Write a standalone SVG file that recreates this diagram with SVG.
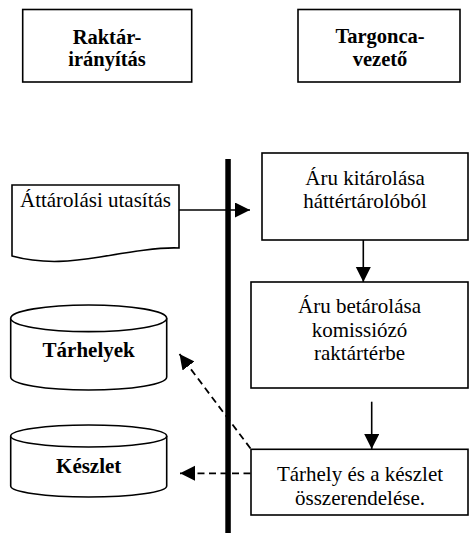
<svg xmlns="http://www.w3.org/2000/svg" width="469" height="533" viewBox="0 0 469 533">
<style>
.box{fill:#fff;stroke:#000;stroke-width:1.6}
.t{font-family:"Liberation Serif","Times New Roman",serif;font-size:21px;fill:#000;text-anchor:middle}
.b{font-weight:bold}
.h{font-size:20.5px}
.ln{stroke:#000;stroke-width:1.6;fill:none}
.dash{stroke:#000;stroke-width:1.8;fill:none;stroke-dasharray:7 4.5}
</style>
<defs>
<marker id="ah" markerUnits="userSpaceOnUse" markerWidth="16" markerHeight="16" refX="15" refY="7.5" orient="auto">
<path d="M0,0 L15,7.5 L0,15 Z" fill="#000"/>
</marker>
</defs>
<rect width="469" height="533" fill="#fff"/>
<g id="lane-raktar">
<rect class="box" x="22.7" y="9.5" width="169" height="72.5"/>
<text class="t b h" x="107" y="43.5">Raktár-</text>
<text class="t b h" x="107" y="66">irányítás</text>
</g>
<g id="lane-targonca">
<rect class="box" x="298" y="9.5" width="162" height="72.5"/>
<text class="t b h" x="380" y="43">Targonca-</text>
<text class="t b h" x="380" y="65.5">vezető</text>
</g>
<g id="swimlane-divider">
<rect x="225.3" y="159" width="5.5" height="374" fill="#000"/>
</g>
<g id="doc-attarolasi">
<path class="box" d="M12,185 H179 V248 C160,247 130,252 100,257 C75,261 45,265 12,256 Z"/>
<text class="t" x="95.5" y="206.7">Áttárolási utasítás</text>
</g>
<g id="p-kitarolas">
<rect class="box" x="262" y="153" width="206" height="87"/>
<text class="t" x="365" y="185">Áru kitárolása</text>
<text class="t" x="365" y="208.3">háttértárolóból</text>
</g>
<g id="p-betarolas">
<rect class="box" x="251" y="282" width="217" height="106"/>
<text class="t" x="359.5" y="313">Áru betárolása</text>
<text class="t" x="359.5" y="336.5">komissiózó</text>
<text class="t" x="359.5" y="360">raktártérbe</text>
</g>
<g id="p-osszerendeles">
<rect class="box" x="251" y="449.3" width="217" height="65.7"/>
<text class="t" x="360" y="481">Tárhely és a készlet</text>
<text class="t" x="360" y="505">összerendelése.</text>
</g>
<g id="db-tarhelyek">
<path class="box" d="M10.7,318.3 V377 A78,13 0 0 0 166.7,377 V318.3"/>
<ellipse class="box" cx="88.7" cy="318.3" rx="78" ry="13.3"/>
<text class="t b" x="88.7" y="356.7">Tárhelyek</text>
</g>
<g id="db-keszlet">
<path class="box" d="M10.7,436 V486 A78,11 0 0 0 166.7,486 V436"/>
<ellipse class="box" cx="88.7" cy="436" rx="78" ry="11"/>
<text class="t b" x="88.7" y="472.7">Készlet</text>
</g>
<g id="connectors">
<line class="ln" x1="179" y1="210" x2="250" y2="210" marker-end="url(#ah)"/>
<line class="ln" x1="363.3" y1="240" x2="363.3" y2="282" marker-end="url(#ah)"/>
<line class="ln" x1="371.7" y1="401.7" x2="371.7" y2="449" marker-end="url(#ah)"/>
<line class="dash" x1="250.5" y1="448.5" x2="179.5" y2="354" marker-end="url(#ah)"/>
<line class="dash" x1="250.5" y1="473.3" x2="180" y2="473.3" marker-end="url(#ah)"/>
</g>
</svg>
